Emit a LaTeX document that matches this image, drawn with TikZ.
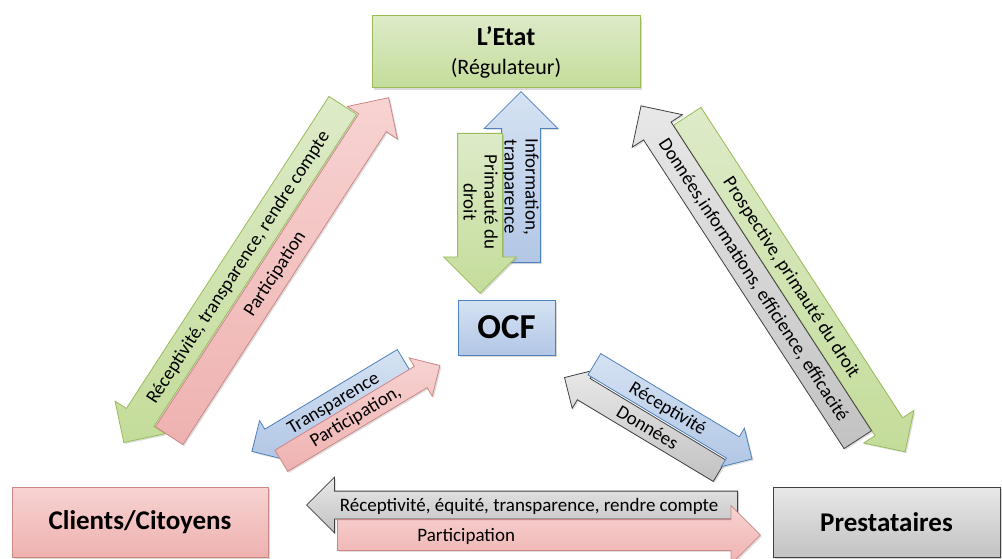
\documentclass[tikz,border=0pt]{standalone}
\usepackage{fontspec}
\setmainfont{Carlito}
\usetikzlibrary{shapes.arrows,shadows}

\definecolor{grnTop}{HTML}{DDEBC8}
\definecolor{grnBot}{HTML}{C4DC9A}
\definecolor{grnLine}{HTML}{9BBB59}
\definecolor{pnkTop}{HTML}{F7D3D2}
\definecolor{pnkBot}{HTML}{EEB2B0}
\definecolor{pnkLine}{HTML}{CC8785}
\definecolor{bluTop}{HTML}{D5E2F3}
\definecolor{bluBot}{HTML}{B2C7E5}
\definecolor{bluLine}{HTML}{4F81BD}
\definecolor{gryTop}{HTML}{E8E8E8}
\definecolor{gryBot}{HTML}{C2C2C2}
\definecolor{gryLine}{HTML}{404040}

\begin{document}
\begin{tikzpicture}[
  x=1pt, y=-1pt,
  box/.style={rectangle, draw=#1Line, top color=#1Top, bottom color=#1Bot,
              line width=1pt, align=center,
              drop shadow={opacity=0.3, shadow xshift=2pt, shadow yshift=-2pt}},
  barrow/.style={single arrow, anchor=tail, inner xsep=3pt, inner ysep=0pt,
                 line width=0.8pt, font=\fontsize{19}{21}\selectfont,
                 draw=#1Line, top color=#1Top, bottom color=#1Bot,
                 drop shadow={opacity=0.25, shadow xshift=1.5pt, shadow yshift=-1.5pt}},
  shaft/.style 2 args={text height=.5*#1pt+6pt, text depth=.5*#1pt-6pt,
                       single arrow head extend=.5*#2pt-.5*#1pt},
  back/.style={shape border rotate=180}
]
\useasboundingbox (0,0) rectangle (1002,559);

% actors
\node[box=grn, minimum width=268pt, minimum height=72pt,
      font=\fontsize{22}{29}\selectfont] (etat) at (506,52)
  {{\fontsize{26}{29}\selectfont\bfseries L'Etat}\\(Régulateur)};
\node[box=blu, minimum width=97pt, minimum height=55pt,
      font=\fontsize{35}{38}\selectfont\bfseries] (ocf) at (506.5,327.5) {OCF};
\node[box=pnk, minimum width=256pt, minimum height=70pt,
      font=\fontsize{27}{30}\selectfont\bfseries] (clients) at (140,522) {Clients/Citoyens};
\node[box=gry, minimum width=227pt, minimum height=70pt,
      font=\fontsize{27}{30}\selectfont\bfseries] (prest) at (886.5,522) {Prestataires};

% Etat <-> Clients
\node[barrow=grn, shaft={32}{59}, back, rotate=57, minimum height=402pt] (etatcl) at (343,105)
  {Réceptivité, transparence, rendre compte};
\node[barrow=pnk, shaft={32}{59}, rotate=57, minimum height=403pt] (cletat) at (169,436)
  {Participation};

% Etat <-> Prestataires
\node[barrow=grn, shaft={32}{59}, rotate=-57, minimum height=400pt] (etatpr) at (687,116)
  {Prospective, primauté du droit};
\node[barrow=gry, shaft={32}{59}, back, rotate=-57, minimum height=398pt] (pretat) at (858,440)
  {Données,informations, efficience, efficacité};

% Etat <-> OCF
\node[barrow=blu, shaft={38}{73}, back, rotate=-90, minimum height=171pt] (ocfetat) at (521,263)
  {\begin{tabular}{@{}c@{}}Information,\\tranparence\end{tabular}};
\node[barrow=grn, shaft={44}{72}, rotate=-90, minimum height=160pt] (etatocf) at (480,133)
  {\begin{tabular}{@{}c@{}}Primauté du\\droit\end{tabular}};

% OCF <-> Clients
\node[barrow=blu, shaft={24}{44}, back, rotate=31, minimum height=177pt] (ocfcl) at (404,360)
  {Transparence};
\node[barrow=pnk, shaft={24}{44}, rotate=31, minimum height=185pt] (clocf) at (281,461)
  {Participation,};

% OCF <-> Prestataires
\node[barrow=gry, shaft={24}{44}, back, rotate=-31, minimum height=181pt] (procf) at (720,471)
  {Données};
\node[barrow=blu, shaft={24}{44}, rotate=-31, minimum height=184pt] (ocfpr) at (594,364)
  {Réceptivité};

% Clients <-> Prestataires
\node[barrow=gry, shaft={27}{55}, back, minimum height=431pt] (prcl) at (738,505)
  {Réceptivité, équité, transparence, rendre compte};
\node[barrow=pnk, shaft={30}{58}, minimum height=423pt] (clpr) at (337,535)
  {Participation\hspace*{150pt}};
\end{tikzpicture}
\end{document}
